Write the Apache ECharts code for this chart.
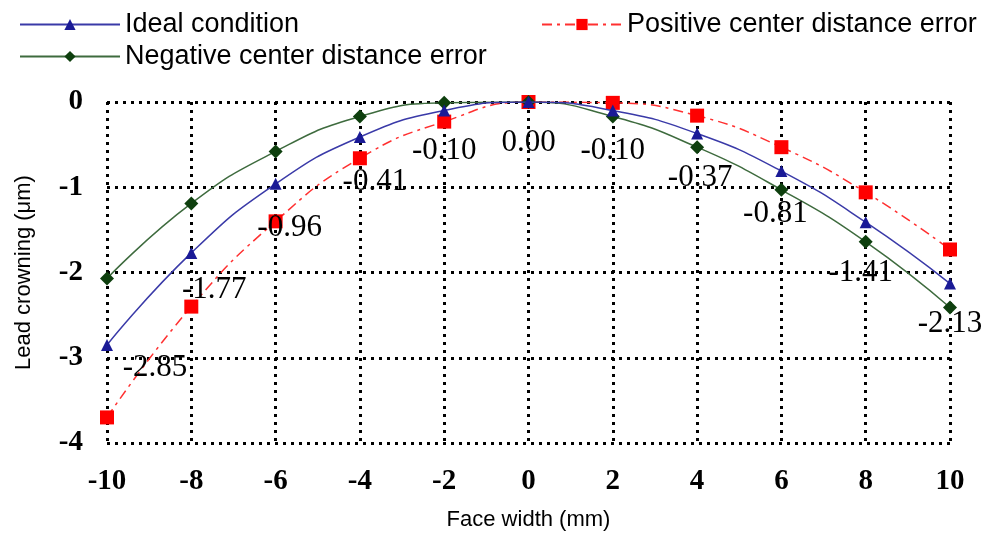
<!DOCTYPE html>
<html>
<head>
<meta charset="utf-8">
<script src="https://cdn.jsdelivr.net/npm/echarts@6/dist/echarts.min.js"></script>
<style>
  html, body { margin: 0; padding: 0; background: #fff; }
  #chart { width: 1005px; height: 533px; }
</style>
</head>
<body>
<div id="chart"></div>
<script>
// face width positions (mm)
const faceWidth = [-10, -8, -6, -4, -2, 0, 2, 4, 6, 8, 10];
// lead crowning values (um)
const ideal = [-2.85, -1.77, -0.96, -0.41, -0.10, 0.00, -0.10, -0.37, -0.81, -1.41, -2.13];
const positiveErr = [-3.70, -2.40, -1.40, -0.66, -0.23, 0.00, -0.01, -0.16, -0.53, -1.06, -1.73];
const negativeErr = [-2.07, -1.19, -0.58, -0.17, -0.01, 0.00, -0.17, -0.53, -1.03, -1.64, -2.41];
// label offsets for the ideal values [dx, dy]
const labelOffsets = [[48, -8], [23, 6], [14, 14], [15, 14], [0, 10], [0, 10], [0, 10], [3, 14], [-6, 12], [-5, 20], [0, 10]];

const chart = echarts.init(document.getElementById('chart'));

const pair = (ys) => faceWidth.map((x, i) => [x, ys[i]]);

const serif = '"Liberation Serif", "DejaVu Serif", serif';
const sans = '"Liberation Sans", Arial, sans-serif';
const dotted = { color: '#000', width: 3, type: [3, 5] };

const option = {
  animation: false,
  backgroundColor: '#fff',
  grid: { left: 107, right: 55, top: 102, bottom: 90, outerBoundsMode: 'none' },
  legend: [
    {
      left: 14, top: 6, orient: 'vertical', itemGap: 5,
      itemWidth: 100, itemHeight: 14,
      textStyle: { fontFamily: sans, fontSize: 27, color: '#000' },
      data: ['Ideal condition', 'Negative center distance error']
    },
    {
      left: 536, top: 6, itemWidth: 80, itemHeight: 14,
      textStyle: { fontFamily: sans, fontSize: 27, color: '#000' },
      data: ['Positive center distance error']
    }
  ],
  xAxis: {
    type: 'value', min: -10, max: 10, interval: 2,
    name: 'Face width (mm)', nameLocation: 'middle', nameGap: 66,
    nameTextStyle: { fontFamily: sans, fontSize: 22, color: '#000' },
    axisLine: { show: false },
    axisTick: { show: false },
    axisLabel: { fontFamily: serif, fontSize: 29, fontWeight: 'bold', color: '#000', margin: 24 },
    splitLine: { show: true, lineStyle: dotted }
  },
  yAxis: {
    type: 'value', min: -4, max: 0, interval: 1,
    name: 'Lead crowning (\u03bcm)', nameLocation: 'middle', nameGap: 72,
    nameTextStyle: { fontFamily: sans, fontSize: 22, color: '#000' },
    axisLine: { show: false },
    axisTick: { show: false },
    axisLabel: { fontFamily: serif, fontSize: 29, fontWeight: 'bold', color: '#000', margin: 24 },
    splitLine: { show: true, lineStyle: dotted }
  },
  series: [
    {
      name: 'Ideal condition', type: 'line', smooth: true, z: 4,
      data: pair(ideal).map((p, i) => ({
        value: p,
        label: { offset: labelOffsets[i] }
      })),
      symbol: 'triangle', symbolSize: 12,
      lineStyle: { color: '#3a3aa8', width: 1.5 },
      itemStyle: { color: '#1a1a96' },
      label: {
        show: true, position: 'bottom', distance: 9,
        fontFamily: serif, fontSize: 31, color: '#000',
        formatter: (p) => p.value[1].toFixed(2)
      }
    },
    {
      name: 'Positive center distance error', type: 'line', smooth: true, z: 3,
      data: pair(positiveErr),
      symbol: 'rect', symbolSize: 14,
      lineStyle: { color: '#ff3030', width: 1.5, type: [10, 5, 3, 5] },
      itemStyle: { color: '#ff0000' }
    },
    {
      name: 'Negative center distance error', type: 'line', smooth: true, z: 3,
      data: pair(negativeErr),
      symbol: 'diamond', symbolSize: 14,
      lineStyle: { color: '#3e6b3e', width: 1.5 },
      itemStyle: { color: '#0e3f0e' }
    }
  ]
};

chart.setOption(option);
</script>
</body>
</html>
